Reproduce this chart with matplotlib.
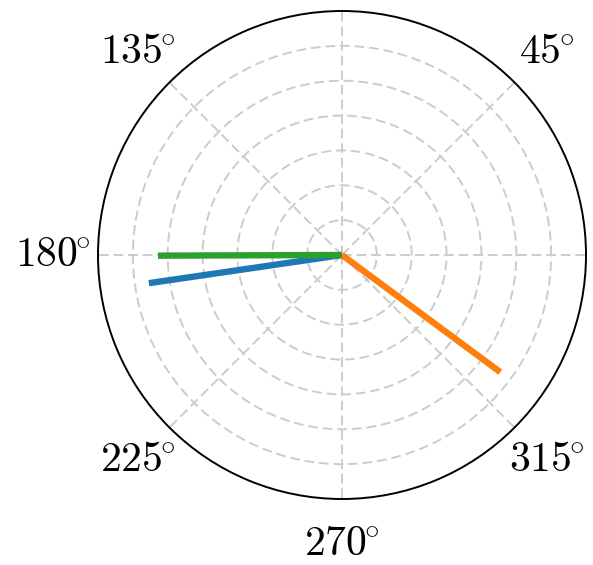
import numpy as np
import matplotlib
matplotlib.use("Agg")
import matplotlib.pyplot as plt

plt.rcParams['mathtext.fontset'] = 'cm'
plt.rcParams['font.family'] = 'serif'
plt.rcParams['font.serif'] = ['DejaVu Serif']

# data (angles in degrees, radii)
series_names = ['A', 'B', 'C']
angles_deg = [188.3, 323.5, 180.2]
radii = [5.6, 5.65, 5.28]
colors = ['#1f77b4', '#ff7f0e', '#2ca02c']

theta_ticks = [0, 45, 90, 135, 180, 225, 270, 315]
theta_labels = ['', r'$45^{\!\!\circ}$', '', r'$135^{\!\!\circ}$', r'$180^{\!\!\circ}$',
                r'$225^{\!\!\circ}$', r'$270^{\!\!\circ}$', r'$315^{\!\!\circ}$']
r_ticks = [1, 2, 3, 4, 5, 6]
r_max = 7.0

fig = plt.figure(figsize=(5.93, 5.65), dpi=100)
ax = fig.add_axes([98/593, 66/565, 488/593, 488/565], projection='polar')

for a, r, c in zip(angles_deg, radii, colors):
    ax.plot([0, np.deg2rad(a)], [0, r], color=c, lw=4.6, solid_capstyle='butt')

ax.set_ylim(0, r_max)
ax.set_yticks(r_ticks)
ax.set_yticklabels([])
ax.set_thetagrids(theta_ticks, theta_labels, fontsize=30)
ax.tick_params(axis='x', pad=22)
ax.grid(True, color='#cccccc', linestyle=(0, (5, 2.5)), linewidth=1.4)
ax.spines['polar'].set_linewidth(1.4)
ax.spines['polar'].set_color('black')

fig.savefig('out.png', dpi=100)
